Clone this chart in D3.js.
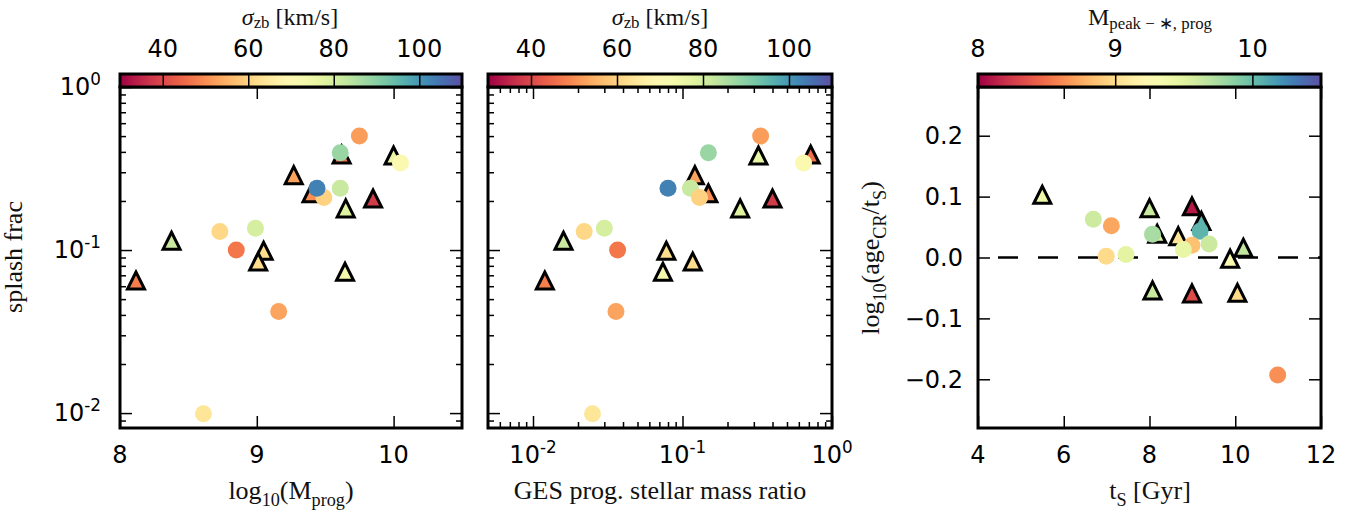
<!DOCTYPE html>
<html>
<head>
<meta charset="utf-8">
<script src="https://cdn.jsdelivr.net/npm/d3@7"></script>
<style>body{margin:0;background:#fff}</style>
</head>
<body>
<script>
// circles (panels 1 and 2)
const circMass   = [9.75, 9.61, 10.05, 9.61, 9.49, 9.44, 8.73, 8.99, 8.85, 9.16, 8.61];
const circSplash = [0.50, 0.395, 0.342, 0.239, 0.21, 0.239, 0.13, 0.136, 0.10, 0.042, 0.0099];
const circRatio  = [0.333, 0.149, 0.645, 0.113, 0.13, 0.080, 0.022, 0.030, 0.0368, 0.0359, 0.025];
const circSigma  = [52, 88, 70, 82, 60, 103, 61, 80, 47, 53, 64];
// triangles (panels 1 and 2)
const triMass   = [9.27, 9.40, 10.0, 9.62, 9.85, 9.65, 8.377, 9.05, 9.01, 8.117, 9.645];
const triSplash = [0.288, 0.223, 0.38, 0.385, 0.207, 0.18, 0.114, 0.099, 0.085, 0.065, 0.0736];
const triRatio  = [0.121, 0.149, 0.322, 0.72, 0.40, 0.243, 0.016, 0.078, 0.117, 0.012, 0.074];
const triSigma  = [53, 50, 76, 46, 38, 78, 82, 62, 62, 48, 73];
// panel 3
const triTs    = [5.5, 8.0, 8.99, 9.21, 8.18, 8.67, 9.88, 10.19, 8.07, 8.99, 10.05];
const triAge   = [0.103, 0.081, 0.084, 0.060, 0.039, 0.035, -0.002, 0.016, -0.054, -0.059, -0.058];
const triMpeak = [9.4, 9.62, 8.1, 10.05, 9.5, 9.05, 9.28, 9.65, 9.62, 8.33, 8.98];
const circTs    = [6.69, 7.11, 6.99, 7.45, 8.07, 9.18, 8.99, 8.79, 9.39, 10.99];
const circAge   = [0.063, 0.052, 0.002, 0.005, 0.038, 0.043, 0.020, 0.013, 0.022, -0.193];
const circMpeak = [9.6, 8.73, 8.99, 9.48, 9.75, 10.05, 8.85, 9.44, 9.61, 8.63];

const sigmaTicks = [40, 60, 80, 100];
const mpeakTicks = [8, 9, 10];
const massTicks = [8, 9, 10];
const tsTicks = [4, 6, 8, 10, 12];
const ageTicks = [-0.2, -0.1, 0.0, 0.1, 0.2];
const logMajor = [0.01, 0.1, 1];

const W = 1352, H = 514, yTop = 87, yBot = 428;
const sans = 'DejaVu Sans', serif = 'Liberation Serif';

const svg = d3.select('body').append('svg').attr('width', W).attr('height', H);
const defs = svg.append('defs');

const x1 = d3.scaleLinear([8, 10.5], [120, 462]);
const x2 = d3.scaleLog([0.005, 1], [488, 832]);
const x3 = d3.scaleLinear([4, 12], [978, 1321]);
const ySplash = d3.scaleLog([0.0081, 1], [yBot, yTop]);
const yAge = d3.scaleLinear([-0.28, 0.28], [yBot, yTop]);

const sigmaColor = d3.scaleSequential([30, 110], d3.interpolateSpectral);
const mpeakColor = d3.scaleSequential([8, 10.5], d3.interpolateSpectral);

function minorLog(lo, hi) {
  const out = [];
  for (let e = -3; e <= 0; e++) for (let m = 2; m <= 9; m++) {
    const v = m * Math.pow(10, e);
    if (v > lo && v < hi) out.push(v);
  }
  return out;
}

// text with sub/superscripts
function rich(t, parts, size, subShift = 0.25) {
  let cur = 0;
  for (const [s, k, st] of parts) {
    const off = k === 'sub' ? size * subShift : k === 'sup' ? -size * 0.42 : 0;
    const ts = t.append('tspan').attr('dy', off - cur).attr('font-size', k ? size * 0.7 : size).text(s);
    if (st) ts.attr('font-style', st);
    cur = off;
  }
  return t;
}

function ticksOn(scale, orient, vals, size, pos) {
  const ax = {left: d3.axisLeft, right: d3.axisRight, top: d3.axisTop, bottom: d3.axisBottom}[orient](scale)
    .tickValues(vals).tickSize(-size).tickFormat('');
  const vert = orient === 'left' || orient === 'right';
  const g = svg.append('g').attr('transform', vert ? `translate(${pos},0)` : `translate(0,${pos})`).call(ax);
  g.select('.domain').remove();
  g.selectAll('line').attr('stroke', '#000').attr('stroke-width', 1.5);
}

function colorbar(x, cscale, ticks, id, fmt) {
  const [a, b] = cscale.domain();
  const cx = d3.scaleLinear([a, b], x.range());
  const grad = defs.append('linearGradient').attr('id', id);
  d3.range(0, 1.0001, 0.02).forEach(t =>
    grad.append('stop').attr('offset', t).attr('stop-color', cscale(a + t * (b - a))));
  const [r0, r1] = x.range();
  svg.append('rect').attr('x', r0).attr('y', 74).attr('width', r1 - r0).attr('height', 13)
    .attr('fill', `url(#${id})`);
  const g = svg.append('g').attr('transform', 'translate(0,87)')
    .call(d3.axisTop(cx).tickValues(ticks).tickSize(13).tickFormat(''));
  g.select('.domain').remove();
  g.selectAll('line').attr('stroke', '#000').attr('stroke-width', 1.5);
  svg.selectAll(null).data(ticks).enter().append('text')
    .attr('x', d => cx(d)).attr('y', 57).attr('text-anchor', 'middle')
    .attr('font-family', sans).attr('font-size', 24).text(fmt);
  svg.append('rect').attr('x', r0).attr('y', 74).attr('width', r1 - r0).attr('height', 13)
    .attr('fill', 'none').attr('stroke', '#000').attr('stroke-width', 3);
}

function tri(s) { return `M0,${-s}L${-s},${s}L${s},${s}Z`; }

function scatter(x, y, tx, ty, tc, cx, cy, cc, cmap) {
  svg.append('g').selectAll('path').data(tx).enter().append('path')
    .attr('d', tri(8.5))
    .attr('transform', (d, i) => `translate(${x(d)},${y(ty[i])})`)
    .attr('fill', (d, i) => cmap(tc[i]))
    .attr('stroke', '#000').attr('stroke-width', 3).attr('stroke-linejoin', 'miter');
  svg.append('g').selectAll('circle').data(cx).enter().append('circle')
    .attr('cx', d => x(d)).attr('cy', (d, i) => y(cy[i])).attr('r', 8.5)
    .attr('fill', (d, i) => cmap(cc[i]));
}

function frame(x) {
  const [r0, r1] = x.range();
  svg.append('rect').attr('x', r0).attr('y', yTop).attr('width', r1 - r0).attr('height', yBot - yTop)
    .attr('fill', 'none').attr('stroke', '#000').attr('stroke-width', 3);
}

function powLabel(x, y, exp, anchor) {
  rich(svg.append('text').attr('x', x).attr('y', y).attr('text-anchor', anchor)
    .attr('font-family', sans), [['10'], [exp, 'sup']], 24);
}

// ---- panel 1
scatter(x1, ySplash, triMass, triSplash, triSigma, circMass, circSplash, circSigma, sigmaColor);
ticksOn(ySplash, 'left', logMajor, 12, 120);
ticksOn(ySplash, 'left', minorLog(0.0081, 1), 6, 120);
ticksOn(ySplash, 'right', logMajor, 12, 462);
ticksOn(ySplash, 'right', minorLog(0.0081, 1), 6, 462);
ticksOn(x1, 'bottom', massTicks, 12, yBot);
ticksOn(x1, 'top', massTicks, 12, yTop);
frame(x1);
colorbar(x1, sigmaColor, sigmaTicks, 'cb1', d => d);
logMajor.forEach(v => powLabel(101, ySplash(v) + 8, String(Math.round(Math.log10(v))), 'end'));
svg.selectAll(null).data(massTicks).enter().append('text')
  .attr('x', d => x1(d)).attr('y', 463).attr('text-anchor', 'middle')
  .attr('font-family', sans).attr('font-size', 24).text(d => d);

// ---- panel 2
scatter(x2, ySplash, triRatio, triSplash, triSigma, circRatio, circSplash, circSigma, sigmaColor);
ticksOn(ySplash, 'left', logMajor, 12, 488);
ticksOn(ySplash, 'left', minorLog(0.0081, 1), 6, 488);
ticksOn(ySplash, 'right', logMajor, 12, 832);
ticksOn(ySplash, 'right', minorLog(0.0081, 1), 6, 832);
ticksOn(x2, 'bottom', logMajor, 12, yBot);
ticksOn(x2, 'bottom', minorLog(0.005, 1), 6, yBot);
ticksOn(x2, 'top', logMajor, 12, yTop);
ticksOn(x2, 'top', minorLog(0.005, 1), 6, yTop);
frame(x2);
colorbar(x2, sigmaColor, sigmaTicks, 'cb2', d => d);
logMajor.forEach(v => powLabel(x2(v), 463, String(Math.round(Math.log10(v))), 'middle'));

// ---- panel 3
svg.append('line').attr('x1', x3(4)).attr('x2', x3(12)).attr('y1', yAge(0)).attr('y2', yAge(0))
  .attr('stroke', '#000').attr('stroke-width', 2.5).attr('stroke-dasharray', '20,20')
  .attr('stroke-dashoffset', -20);
scatter(x3, yAge, triTs, triAge, triMpeak, circTs, circAge, circMpeak, mpeakColor);
ticksOn(yAge, 'left', ageTicks, 12, 978);
ticksOn(yAge, 'right', ageTicks, 12, 1321);
ticksOn(x3, 'bottom', tsTicks, 12, yBot);
ticksOn(x3, 'top', tsTicks, 12, yTop);
frame(x3);
colorbar(x3, mpeakColor, mpeakTicks, 'cb3', d => d);
svg.selectAll(null).data(ageTicks).enter().append('text')
  .attr('x', 963).attr('y', d => yAge(d) + 8.5).attr('text-anchor', 'end')
  .attr('font-family', sans).attr('font-size', 24)
  .text(d => d3.format('.1f')(d).replace('-', '\u2212'));
svg.selectAll(null).data(tsTicks).enter().append('text')
  .attr('x', d => x3(d)).attr('y', 463).attr('text-anchor', 'middle')
  .attr('font-family', sans).attr('font-size', 24).text(d => d);

// ---- labels
function label(x, y, parts, rot, size = 26, subShift = 0.25) {
  const t = svg.append('text').attr('text-anchor', 'middle').attr('font-family', serif).attr('fill', '#111')
    .attr('transform', `translate(${x},${y})` + (rot ? ' rotate(-90)' : ''));
  return rich(t, parts, size, subShift);
}
label(22, 257, [['splash frac']], true);
label(879, 258, [['log'], ['10', 'sub'], ['(age'], ['CR', 'sub'], ['/t'], ['S', 'sub'], [')']], true);
label(291, 499, [['log'], ['10', 'sub'], ['(M'], ['prog', 'sub'], [')']]);
label(660, 499, [['GES prog. stellar mass ratio']]);
label(1150, 499, [['t'], ['S', 'sub'], [' [Gyr]']]);
label(290, 25, [['σ', null, 'italic'], ['zb', 'sub'], [' [km/s]']], false, 24, 0.12);
label(660, 25, [['σ', null, 'italic'], ['zb', 'sub'], [' [km/s]']], false, 24, 0.12);
label(1150, 25, [['M'], ['peak \u2212 \u2217, prog', 'sub']], false, 24, 0.15);
</script>
</body>
</html>
